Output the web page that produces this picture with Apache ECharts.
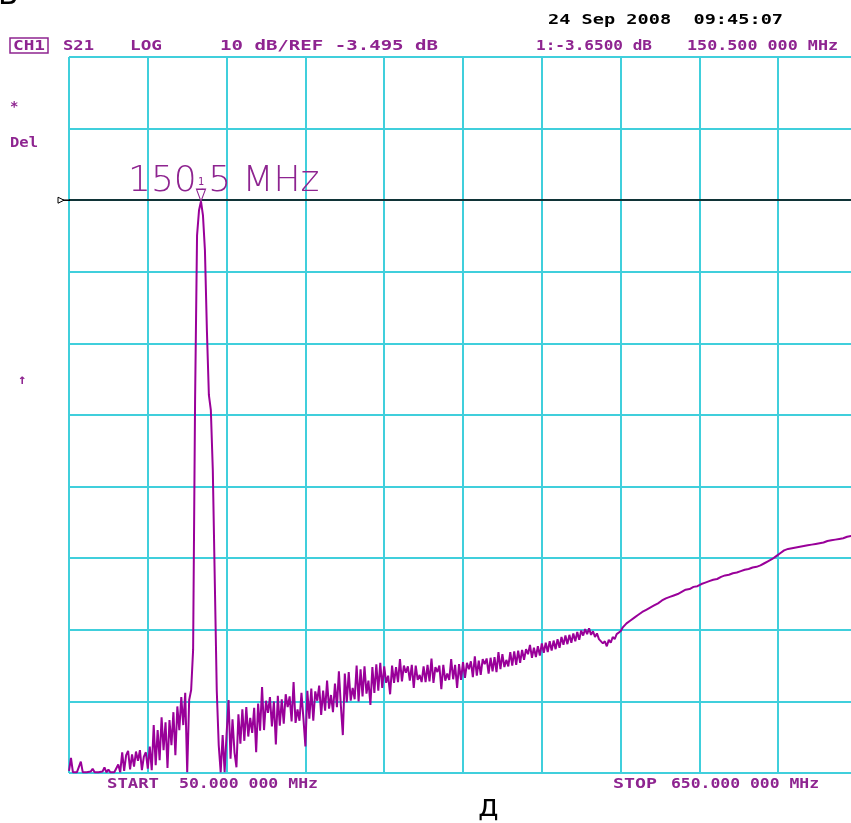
<!DOCTYPE html>
<html>
<head>
<meta charset="utf-8">
<title>S21 LOG</title>
<script src="https://cdn.jsdelivr.net/npm/echarts@6/dist/echarts.min.js"></script>
<style>
    html, body { margin: 0; padding: 0; background: #ffffff; }
    #main { width: 851px; height: 823px; }
</style>
</head>
<body>
<div id="main"></div>
<script>
    // sweep settings of the analyzer
    var START_MHZ = 50;
    var STOP_MHZ = 650;
    var POINTS = 401;
    var REF_DB = -3.495;      // reference level, 10 dB/div
    var DIV_DB = 10;
    var MARKER_MHZ = 150.5;
    var MARKER_DB = -3.65;

    var s21_db = [
        -83.2, -81.4, -83.4, -83.3, -83.4, -83.3, -81.9, -83.4, -83.3, -83.4,
        -83.4, -83.3, -82.9, -83.4, -83.3, -83.4, -83.4, -83.3, -82.7, -83.4,
        -83.0, -83.4, -83.3, -83.4, -83.4, -82.3, -83.4, -80.6, -83.2, -81.0,
        -80.4, -83.0, -80.9, -82.6, -80.5, -81.8, -80.3, -83.1, -81.2, -80.6,
        -82.9, -79.8, -83.1, -76.8, -82.4, -77.5, -81.7, -75.7, -80.3, -76.4,
        -82.8, -76.1, -79.6, -75.0, -81.0, -74.2, -77.5, -72.9, -76.8, -72.3,
        -83.4, -73.3, -71.9, -66.3, -31.4, -8.4, -4.9, -3.65, -5.6, -10.5,
        -21.7, -30.7, -32.8, -41.2, -56.6, -71.9, -79.6, -83.4, -78.2, -83.4,
        -78.0, -73.3, -81.5, -76.0, -80.6, -82.7, -75.3, -79.4, -74.6, -79.0,
        -74.3, -78.4, -75.8, -77.9, -74.4, -80.6, -73.8, -77.6, -71.5, -77.5,
        -73.4, -75.1, -72.9, -77.0, -73.5, -79.5, -72.7, -76.9, -73.2, -76.6,
        -72.5, -74.3, -72.8, -76.3, -70.8, -76.5, -74.6, -76.2, -72.3, -75.9,
        -79.8, -72.0, -75.9, -71.7, -76.2, -72.1, -73.4, -71.3, -75.4, -72.0,
        -74.8, -70.6, -74.5, -72.6, -75.0, -71.0, -74.3, -69.3, -74.1, -78.2,
        -69.6, -73.6, -69.4, -73.4, -71.6, -73.2, -68.5, -73.5, -69.0, -72.8,
        -68.6, -72.4, -70.6, -74.0, -68.7, -72.3, -68.3, -72.0, -68.1, -71.6,
        -68.6, -70.9, -69.9, -72.5, -68.5, -70.9, -68.7, -70.8, -67.6, -70.7,
        -68.5, -69.5, -68.6, -70.6, -68.4, -71.6, -68.5, -70.5, -69.8, -70.8,
        -68.6, -70.8, -68.4, -70.7, -67.5, -70.9, -68.7, -69.4, -68.5, -71.8,
        -68.4, -70.6, -69.6, -70.5, -67.6, -70.4, -68.4, -71.6, -68.3, -70.5,
        -68.0, -70.2, -68.1, -69.0, -67.9, -70.1, -67.2, -69.9, -67.8, -69.8,
        -67.6, -68.3, -67.5, -69.6, -67.4, -69.3, -67.3, -69.4, -66.6, -69.0,
        -66.9, -68.7, -67.7, -68.6, -66.6, -68.5, -66.5, -68.4, -66.4, -68.1,
        -66.3, -67.7, -66.2, -66.9, -65.6, -67.4, -66.0, -67.3, -65.8, -67.1,
        -65.4, -66.7, -65.3, -66.6, -65.1, -66.4, -65.0, -66.2, -64.8, -66.0,
        -64.5, -65.6, -64.3, -65.5, -64.2, -65.3, -64.0, -65.1, -63.8, -64.9,
        -63.6, -64.3, -63.4, -64.1, -63.3, -64.2, -63.7, -64.5, -64.0, -64.8,
        -64.6, -65.4, -65.1, -65.8, -64.9, -65.3, -64.5, -64.8, -64.1, -64.3,
        -63.7, -63.2, -63.1, -62.6, -62.7, -62.2, -62.3, -61.8, -61.9, -61.4,
        -61.4, -61.0, -61.1, -60.7, -60.8, -60.4, -60.5, -60.1, -60.2, -59.8,
        -59.7, -59.4, -59.5, -59.1, -59.2, -58.9, -59.0, -58.7, -58.8, -58.5,
        -58.5, -58.2, -58.3, -57.9, -58.1, -57.8, -57.9, -57.5, -57.7, -57.4,
        -57.4, -57.1, -57.2, -56.9, -57.0, -56.7, -56.9, -56.5, -56.6, -56.4,
        -56.4, -56.1, -56.2, -55.9, -56.0, -55.8, -55.9, -55.6, -55.7, -55.5,
        -55.6, -55.3, -55.4, -55.1, -55.2, -55.0, -55.1, -54.8, -54.9, -54.7,
        -54.6, -54.5, -54.4, -54.2, -54.1, -53.9, -53.8, -53.6, -53.4, -53.2,
        -53.0, -52.8, -52.6, -52.4, -52.3, -52.2, -52.2, -52.1, -52.2, -52.0,
        -52.1, -51.9, -52.0, -51.8, -51.9, -51.7, -51.8, -51.6, -51.7, -51.5,
        -51.6, -51.4, -51.5, -51.3, -51.3, -51.1, -51.2, -51.0, -51.1, -50.9,
        -51.0, -50.8, -50.9, -50.7, -50.7, -50.5, -50.6, -50.4, -50.4, -50.3, -50.2
    ];

    var PURPLE = '#8e2490';
    var TRACE = '#990099';
    var CYAN = '#40cfdc';
    var MONO = '"DejaVu Sans Mono", monospace';

    var step = (STOP_MHZ - START_MHZ) / (POINTS - 1);
    // x is MHz above start, y is dB relative to REF so the graticule lands on whole divisions
    var trace = [];
    for (var i = 0; i < s21_db.length; i++) {
        trace.push([i * step, s21_db[i] - REF_DB]);
    }
    var markerPos = [MARKER_MHZ - START_MHZ, MARKER_DB - REF_DB];

    var myChart = echarts.init(document.getElementById('main'), null, {renderer: 'canvas'});

    var option = {
        animation: false,
        backgroundColor: '#ffffff',
        // graticule runs a few px past the right edge of the screenshot
        grid: {left: 69, top: 57, width: 788, height: 716, outerBoundsMode: 'none'},
        xAxis: {
            type: 'value',
            min: 0,
            max: STOP_MHZ - START_MHZ,
            interval: (STOP_MHZ - START_MHZ) / 10,
            axisLine: {show: false},
            axisTick: {show: false},
            axisLabel: {show: false},
            splitLine: {show: true, lineStyle: {color: CYAN, width: 2}}
        },
        yAxis: {
            type: 'value',
            min: -8 * DIV_DB,
            max: 2 * DIV_DB,
            interval: DIV_DB,
            axisLine: {show: false},
            axisTick: {show: false},
            axisLabel: {show: false},
            splitLine: {show: true, lineStyle: {color: CYAN, width: 2}}
        },
        series: [{
            name: 'S21',
            type: 'line',
            data: trace,
            showSymbol: false,
            symbol: 'none',
            z: 3,
            lineStyle: {color: TRACE, width: 2},
            markLine: {
                silent: true,
                symbol: ['none', 'none'],
                label: {show: false},
                lineStyle: {color: '#000000', width: 1.5, type: 'solid'},
                data: [{yAxis: 0}]
            },
            markPoint: {
                silent: true,
                data: [{
                    coord: markerPos,
                    symbol: 'triangle',
                    symbolRotate: 180,
                    symbolSize: [9, 12],
                    symbolOffset: [0, -6],
                    itemStyle: {color: '#ffffff', borderColor: PURPLE, borderWidth: 1.2},
                    label: {
                        show: true,
                        formatter: '1',
                        position: 'top',
                        distance: 1,
                        color: PURPLE,
                        fontSize: 10,
                        fontFamily: MONO
                    }
                }]
            }
        }]
    };
    myChart.setOption(option);

    // annotations of the instrument screen
    var refPx = myChart.convertToPixel({gridIndex: 0}, [0, 0]);
    var mkPx = myChart.convertToPixel({gridIndex: 0}, markerPos);

    // screen font is wide: stretch mono text to the width it takes on the screen
    function txt(x, y, s, color, w) {
        var size = 14;
        var sx = w ? w / (s.length * 0.602 * size) : 1;
        return {
            type: 'text', x: x, y: y, z: 1, scaleX: sx,
            style: {
                text: s, fill: color,
                font: 'bold ' + size + 'px ' + MONO,
                verticalAlign: 'middle'
            }
        };
    }

    function big(x, y, s, color, size, family, weight) {
        return {
            type: 'text', x: x, y: y, z: 1,
            style: {
                text: s, fill: color,
                font: (weight || 'normal') + ' ' + size + 'px ' + family,
                verticalAlign: 'middle'
            }
        };
    }

    myChart.setOption({
        graphic: [
            big(-2, -4, 'В', '#000000', 30, '"DejaVu Sans", sans-serif'),
            txt(548, 20, '24 Sep 2008  09:45:07', '#000000', 235),
            {type: 'rect', z: 1, shape: {x: 10, y: 38, width: 38, height: 15},
             style: {fill: 'none', stroke: PURPLE, lineWidth: 1.5}},
            txt(13, 46, 'CH1', PURPLE, 32),
            txt(63, 46, 'S21', PURPLE, 31),
            txt(130, 46, 'LOG', PURPLE, 32),
            txt(220, 46, '10 dB/REF -3.495 dB', PURPLE, 218),
            txt(536, 46, '1:-3.6500 dB', PURPLE, 116),
            txt(687, 46, '150.500 000 MHz', PURPLE, 151),
            txt(10, 107, '*', PURPLE),
            txt(10, 143, 'Del', PURPLE, 28),
            txt(18, 380, '↑', PURPLE),
            txt(107, 784, 'START', PURPLE, 52),
            txt(179, 784, '50.000 000 MHz', PURPLE, 139),
            txt(613, 784, 'STOP', PURPLE, 44),
            txt(671, 784, '650.000 000 MHz', PURPLE, 148),
            big(478, 808, 'д', '#000000', 30, '"DejaVu Sans", sans-serif'),
            big(mkPx[0] - 73, mkPx[1] - 20, '150.5 MHz', PURPLE, 36,
                '"DejaVu Sans ExtraLight", "DejaVu Sans", sans-serif', 200),
            // reference level pointer left of the graticule
            {type: 'line', z: 1, shape: {x1: 58, y1: refPx[1], x2: 70, y2: refPx[1]},
             style: {stroke: '#000000', lineWidth: 1.5}},
            {type: 'polygon', z: 2,
             shape: {points: [[58, refPx[1] - 3], [64, refPx[1]], [58, refPx[1] + 3]]},
             style: {fill: '#ffffff', stroke: '#000000', lineWidth: 1}}
        ]
    });
</script>
</body>
</html>
